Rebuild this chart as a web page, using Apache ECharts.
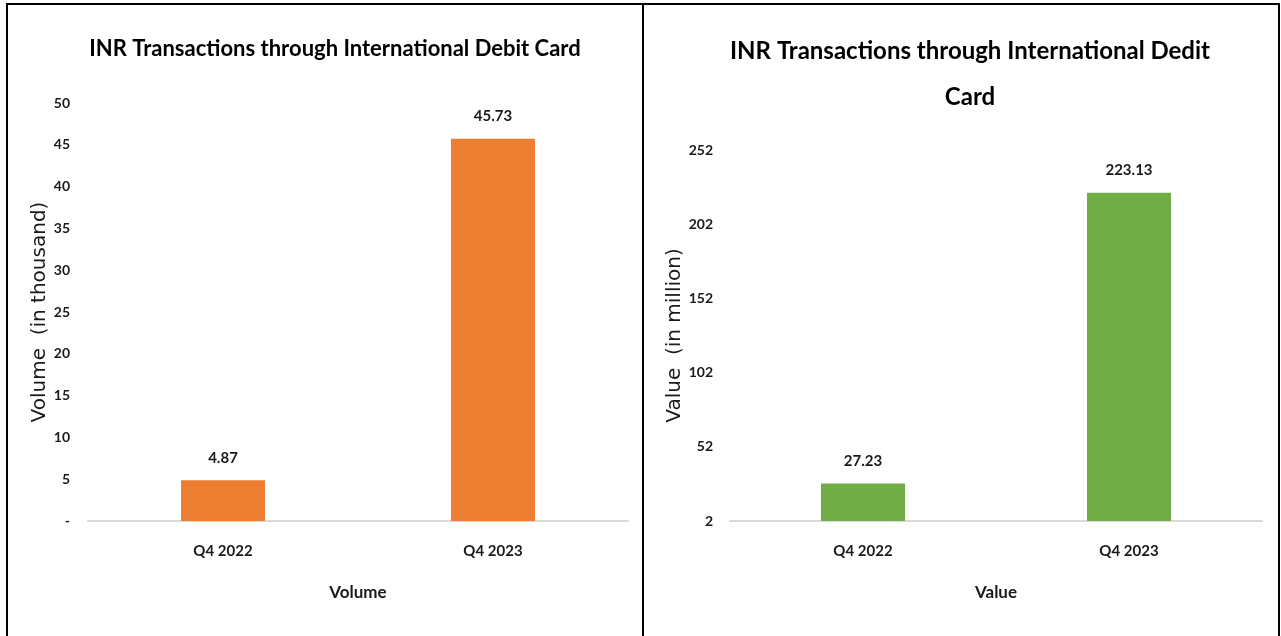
<!DOCTYPE html>
<html>
<head>
<meta charset="utf-8">
<script src="https://cdn.jsdelivr.net/npm/echarts@6/dist/echarts.min.js"></script>
<style>
  html, body { margin: 0; padding: 0; background: #fff; }
  #chart { width: 1281px; height: 636px; }
</style>
</head>
<body>
<div id="chart"></div>
<script>
// Quarters shown on both panels
const quarters = ['Q4 2022', 'Q4 2023'];
// Volume of transactions (in thousand)
const volumeValues = [4.87, 45.73];
// Value of transactions (in million)
const valueValues = [27.23, 223.13];

const body = 'Lato, "Noto Sans", sans-serif';
const wide = '"DejaVu Sans", Verdana, sans-serif';
const ink = '#1a1a1a';

function valueAxis(gridIndex, opts) {
  return Object.assign({
    type: 'value',
    gridIndex: gridIndex,
    nameLocation: 'middle',
    nameRotate: 90,
    nameTextStyle: { fontFamily: wide, fontSize: 20, color: ink },
    axisLine: { show: false },
    axisTick: { show: false },
    splitLine: { show: false }
  }, opts);
}

function categoryAxis(gridIndex, name) {
  return {
    type: 'category',
    gridIndex: gridIndex,
    data: quarters,
    name: name,
    nameLocation: 'middle',
    nameGap: 63,
    nameTextStyle: { fontFamily: body, fontSize: 17, fontWeight: 'bold', color: ink },
    axisLine: { lineStyle: { color: '#d9d9d9', width: 2 } },
    axisTick: { show: false },
    axisLabel: { fontFamily: body, fontSize: 15, fontWeight: 'bold', color: ink, margin: 23 }
  };
}

function barSeries(axisIndex, data, color) {
  return {
    type: 'bar',
    xAxisIndex: axisIndex,
    yAxisIndex: axisIndex,
    data: data,
    barWidth: 84,
    itemStyle: { color: color },
    label: {
      show: true,
      position: 'top',
      distance: 15,
      fontFamily: body,
      fontSize: 15,
      fontWeight: 'bold',
      color: ink
    }
  };
}

const tickLabel = { fontFamily: body, fontSize: 14, fontWeight: 'bold', color: ink, margin: 18 };

const chart = echarts.init(document.getElementById('chart'), null, { renderer: 'canvas' });
chart.setOption({
  backgroundColor: '#ffffff',
  animation: false,
  title: [
    {
      text: 'INR Transactions through International Debit Card',
      left: 330, top: 33, textAlign: 'center',
      textStyle: { fontFamily: body, fontSize: 22, fontWeight: 'bold', color: '#000' }
    },
    {
      text: 'INR Transactions through International Dedit\nCard',
      left: 965, top: 23, textAlign: 'center',
      textStyle: { fontFamily: body, fontSize: 24, fontWeight: 'bold', color: '#000', lineHeight: 46 }
    }
  ],
  grid: [
    { left: 88, top: 103, width: 540, height: 418 },
    { left: 730, top: 150, width: 532, height: 371 }
  ],
  xAxis: [categoryAxis(0, 'Volume'), categoryAxis(1, 'Value')],
  yAxis: [
    valueAxis(0, {
      name: 'Volume  (in thousand)', nameGap: 38,
      min: 0, max: 50, interval: 5,
      axisLabel: Object.assign({}, tickLabel, { formatter: v => (v === 0 ? '-' : String(v)) })
    }),
    valueAxis(1, {
      name: 'Value  (in million)', nameGap: 41,
      min: 2, max: 252, interval: 50,
      axisLabel: Object.assign({}, tickLabel, { margin: 17 })
    })
  ],
  series: [
    barSeries(0, volumeValues, '#ED7D31'),
    barSeries(1, valueValues, '#70AD47')
  ],
  graphic: [
    { type: 'rect', shape: { x: 7, y: 4, width: 1272, height: 640 },
      style: { fill: 'none', stroke: '#000', lineWidth: 2 }, silent: true },
    { type: 'line', shape: { x1: 643, y1: 4, x2: 643, y2: 640 },
      style: { stroke: '#000', lineWidth: 2 }, silent: true }
  ]
});
</script>
</body>
</html>
